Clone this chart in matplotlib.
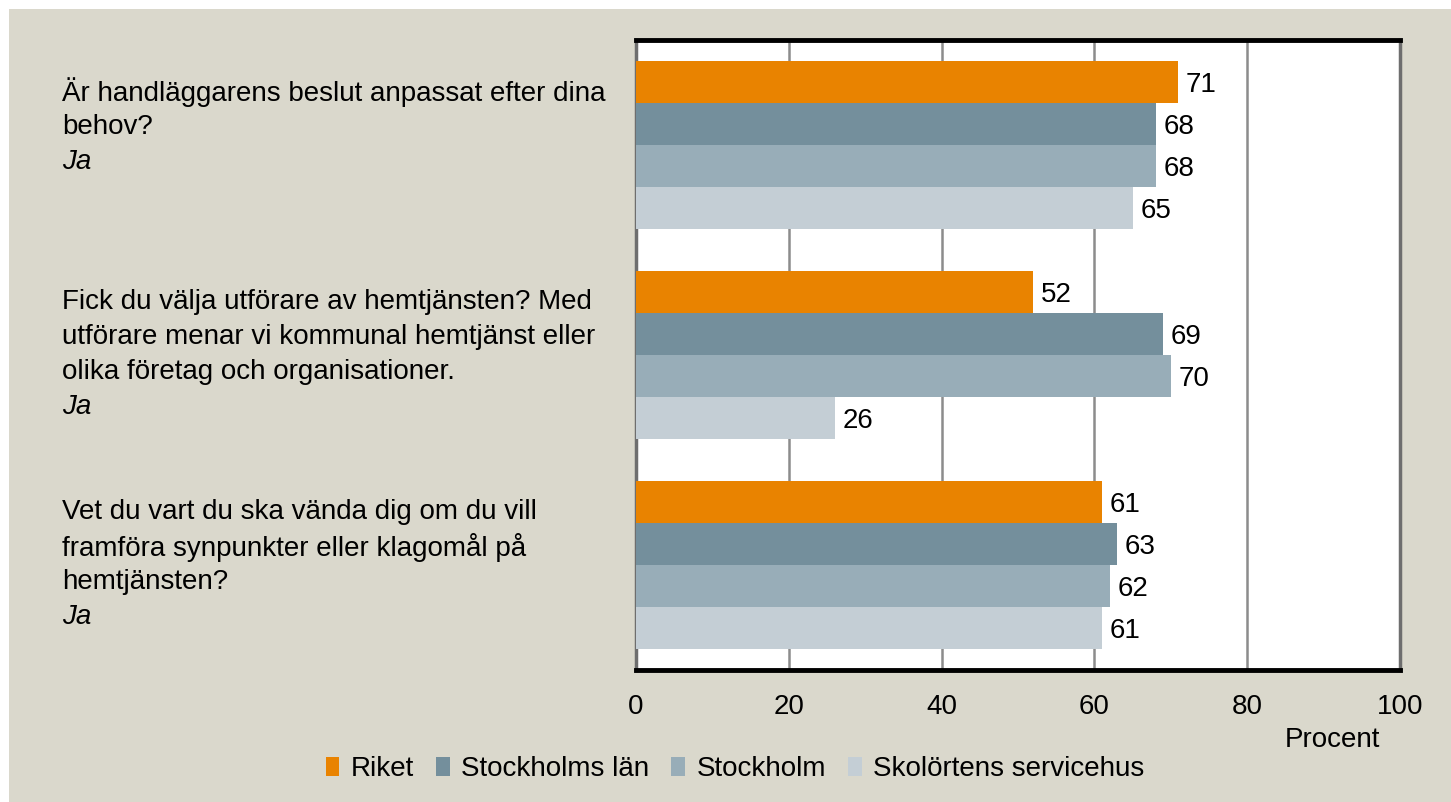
import matplotlib
matplotlib.use("Agg")
import matplotlib.pyplot as plt
import matplotlib.transforms as mtransforms
from matplotlib.patches import Patch, Rectangle
import numpy as np

plt.rcParams['font.family'] = ['Liberation Sans', 'DejaVu Sans']

questions = [
    ["Är handläggarens beslut anpassat efter dina", "behov?"],
    ["Fick du välja utförare av hemtjänsten? Med", "utförare menar vi kommunal hemtjänst eller",
     "olika företag och organisationer."],
    ["Vet du vart du ska vända dig om du vill", "framföra synpunkter eller klagomål på",
     "hemtjänsten?"],
]
answer = "Ja"
series = ["Riket", "Stockholms län", "Stockholm", "Skolörtens servicehus"]
riket = [71, 52, 61]
stockholms_lan = [68, 69, 63]
stockholm = [68, 70, 62]
skolortens = [65, 26, 61]
values = [riket, stockholms_lan, stockholm, skolortens]
colors = ["#E98300", "#748F9C", "#98ADB8", "#C4CED5"]
xticks = [0, 20, 40, 60, 80, 100]
xlabel = "Procent"

W, H = 1451, 802
fig = plt.figure(figsize=(W / 100, H / 100), dpi=100)
fig.patch.set_facecolor("white")
fig.patches.append(Rectangle((9 / W, 0), 1, 1 - 9 / H, transform=fig.transFigure,
                             facecolor="#DAD8CC", edgecolor="none", zorder=-10))

ax = fig.add_axes([636 / W, 1 - 670 / H, (1400 - 636) / W, (670 - 40) / H])
ax.set_facecolor("white")

n = len(questions)
bh = 0.2
offsets = [-0.3, -0.1, 0.1, 0.3]
y = np.arange(n)
for s, (vals, col, off) in enumerate(zip(values, colors, offsets)):
    ax.barh(y + off, vals, height=bh, color=col, zorder=3, label=series[s])
    for yi, v in zip(y, vals):
        ax.text(v + 1.0, yi + off, f"{v}", va="center_baseline", ha="left", fontsize=20, zorder=4)

ax.set_xlim(0, 100)
ax.set_ylim(n - 0.5, -0.5)
ax.set_xticks(xticks)
ax.set_xticklabels([str(t) for t in xticks], fontsize=20)
ax.set_yticks([])
ax.tick_params(axis="x", length=0, pad=17)
ax.grid(axis="x", color="#8C8C8C", linewidth=1.8, zorder=0)
ax.set_axisbelow(True)
for sp in ["top", "bottom"]:
    ax.spines[sp].set_color("black")
    ax.spines[sp].set_linewidth(3.5)
for sp in ["left", "right"]:
    ax.spines[sp].set_color("#6E6E6E")
    ax.spines[sp].set_linewidth(2.5)

fig.text(1332 / W, 1 - 740 / H, xlabel, ha="center", va="center", fontsize=20)

# question labels
trans = mtransforms.blended_transform_factory(fig.transFigure, ax.transData)
px = 1.0 / 210.0  # data units per pixel
for i, lines in enumerate(questions):
    y0 = i - 53 * px
    allines = lines + [answer]
    for j, ln in enumerate(allines):
        ax.text(62 / W, y0 + j * 35 * px, ln, transform=trans, ha="left", va="center",
                fontsize=20, style="italic" if j == len(allines) - 1 else "normal",
                clip_on=False)

handles = [Patch(facecolor=c, edgecolor="none") for c in colors]
fig.legend(handles, series, loc="center", bbox_to_anchor=(735 / W, 1 - 769 / H),
           ncol=4, frameon=False, fontsize=20, handlelength=0.5, handleheight=0.65,
           handletextpad=0.4, columnspacing=0.8)

fig.savefig("out.png", dpi=100)
